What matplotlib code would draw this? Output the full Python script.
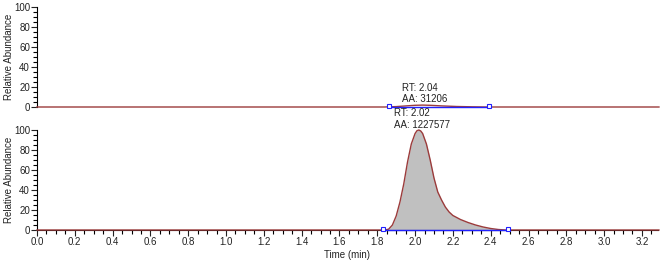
"""
Two stacked chromatogram traces (relative abundance vs time)
"""
import matplotlib
matplotlib.use('Agg')
import matplotlib.pyplot as plt
from matplotlib.ticker import MultipleLocator

plt.rcParams['font.family'] = ['Liberation Sans', 'DejaVu Sans']

# Top trace: small peak
top_time = [0.0, 1.84, 1.90, 1.96, 2.00, 2.04, 2.08, 2.14, 2.22, 2.30, 2.38, 3.29]
top_abund = [0.0, 0.0, 0.4, 1.2, 1.7, 1.9, 1.7, 1.1, 0.5, 0.2, 0.0, 0.0]
top_base = [1.86, 2.39]
top_label = "RT: 2.04\nAA: 31206"
top_rt = 1.93

# Bottom trace: main peak
bot_time = [0.0, 1.80, 1.84, 1.86, 1.88, 1.90, 1.92, 1.94, 1.96, 1.98, 2.00,
            2.01, 2.02, 2.03, 2.04, 2.06, 2.08, 2.10, 2.12, 2.14, 2.16, 2.18,
            2.20, 2.24, 2.28, 2.32, 2.36, 2.40, 2.44, 2.48, 3.29]
bot_abund = [0.0, 0.0, 0.0, 0.8, 5, 14, 28, 46, 68, 86, 96.5,
             99.3, 100, 99, 96.5, 86, 70, 52, 38, 30, 23, 18,
             14.5, 10.5, 7.5, 5, 3, 1.5, 0.5, 0.0, 0.0]
bot_base = [1.83, 2.49]
bot_label = "RT: 2.02\nAA: 1227577"
bot_rt = 1.89

TRACE = '#9b3b3b'
BLUE = '#2020ff'
W, H = 661, 264
XMAX = 3.285

fig = plt.figure(figsize=(W / 100, H / 100), dpi=100)
ax_top = fig.add_axes([37 / W, (H - 107) / H, (658 - 37) / W, 100 / H])
ax_bot = fig.add_axes([37 / W, (H - 230) / H, (658 - 37) / W, 100 / H])

for ax in (ax_top, ax_bot):
    ax.set_xlim(0, XMAX)
    ax.set_ylim(0, 100)
    for s in ('top', 'right'):
        ax.spines[s].set_visible(False)
    ax.spines['left'].set_linewidth(0.8)
    ax.spines['bottom'].set_linewidth(0.8)
    ax.yaxis.set_major_locator(MultipleLocator(20))
    ax.yaxis.set_minor_locator(MultipleLocator(5))
    ax.xaxis.set_major_locator(MultipleLocator(0.2))
    ax.xaxis.set_minor_locator(MultipleLocator(0.05))
    ax.tick_params(which='major', length=4, width=0.8, labelsize=7, pad=1, colors='#222222')
    ax.tick_params(which='minor', length=3, width=0.8)
    ax.set_ylabel('Relative Abundance', fontsize=7, color='#222222')
    ax.yaxis.set_label_coords(-23 / 621, 0.5)

# top panel has no x axis
ax_top.tick_params(axis='x', which='both', bottom=False, labelbottom=False)
ax_top.spines['bottom'].set_visible(False)

# top trace
ax_top.plot(top_time, top_abund, color=TRACE, lw=1.0, clip_on=False, zorder=3)
ax_top.plot(top_base, [0, 0], color=BLUE, lw=1.0, clip_on=False, zorder=4)
ax_top.plot(top_base, [1.5, 1.5], 's', ms=3.3, mfc='white', mec=BLUE, mew=0.8,
            clip_on=False, zorder=5)
ax_top.text(top_rt, 3, top_label, fontsize=7, ha='left', va='bottom',
            linespacing=1.15, color='#222222')

# bottom trace
ax_bot.fill_between(bot_time, bot_abund, 0, color='#c0c0c0', lw=0, zorder=2)
ax_bot.plot(bot_time, bot_abund, color=TRACE, lw=1.0, clip_on=False, zorder=3)
ax_bot.plot(bot_base, [0, 0], color=BLUE, lw=1.0, clip_on=False, zorder=4)
ax_bot.plot(bot_base, [1.5, 1.5], 's', ms=3.3, mfc='white', mec=BLUE, mew=0.8,
            clip_on=False, zorder=5)
ax_bot.text(bot_rt, 100.5, bot_label, fontsize=7, ha='left', va='bottom',
            linespacing=1.15, color='#222222', clip_on=False)
ax_bot.set_xlabel('Time (min)', fontsize=7, labelpad=2, color='#222222')

fig.savefig('out.png', dpi=100)
